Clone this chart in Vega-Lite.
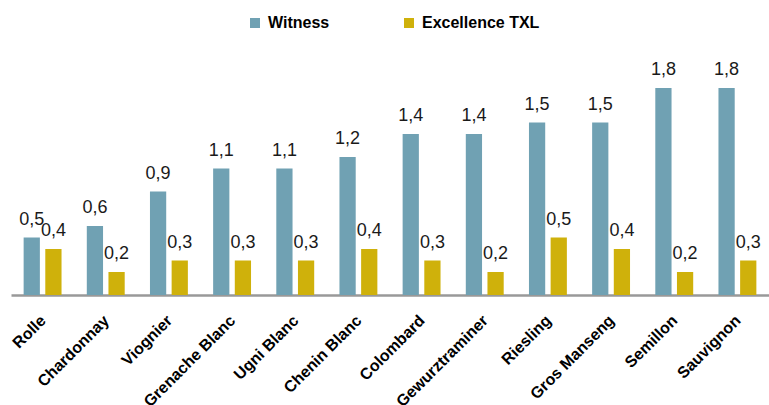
{
  "$schema": "https://vega.github.io/schema/vega-lite/v6.json",
  "autosize": "none",
  "width": 758,
  "height": 276,
  "padding": {"left": 11, "top": 19, "right": 0, "bottom": 110},
  "background": "white",
  "data": {
    "values": [
      {"cepage": "Rolle", "serie": "Witness", "valeur": 0.5},
      {"cepage": "Rolle", "serie": "Excellence TXL", "valeur": 0.4},
      {"cepage": "Chardonnay", "serie": "Witness", "valeur": 0.6},
      {"cepage": "Chardonnay", "serie": "Excellence TXL", "valeur": 0.2},
      {"cepage": "Viognier", "serie": "Witness", "valeur": 0.9},
      {"cepage": "Viognier", "serie": "Excellence TXL", "valeur": 0.3},
      {"cepage": "Grenache Blanc", "serie": "Witness", "valeur": 1.1},
      {"cepage": "Grenache Blanc", "serie": "Excellence TXL", "valeur": 0.3},
      {"cepage": "Ugni Blanc", "serie": "Witness", "valeur": 1.1},
      {"cepage": "Ugni Blanc", "serie": "Excellence TXL", "valeur": 0.3},
      {"cepage": "Chenin Blanc", "serie": "Witness", "valeur": 1.2},
      {"cepage": "Chenin Blanc", "serie": "Excellence TXL", "valeur": 0.4},
      {"cepage": "Colombard", "serie": "Witness", "valeur": 1.4},
      {"cepage": "Colombard", "serie": "Excellence TXL", "valeur": 0.3},
      {"cepage": "Gewurztraminer", "serie": "Witness", "valeur": 1.4},
      {"cepage": "Gewurztraminer", "serie": "Excellence TXL", "valeur": 0.2},
      {"cepage": "Riesling", "serie": "Witness", "valeur": 1.5},
      {"cepage": "Riesling", "serie": "Excellence TXL", "valeur": 0.5},
      {"cepage": "Gros Manseng", "serie": "Witness", "valeur": 1.5},
      {"cepage": "Gros Manseng", "serie": "Excellence TXL", "valeur": 0.4},
      {"cepage": "Semillon", "serie": "Witness", "valeur": 1.8},
      {"cepage": "Semillon", "serie": "Excellence TXL", "valeur": 0.2},
      {"cepage": "Sauvignon", "serie": "Witness", "valeur": 1.8},
      {"cepage": "Sauvignon", "serie": "Excellence TXL", "valeur": 0.3}
    ]
  },
  "encoding": {
    "x": {
      "field": "cepage",
      "type": "nominal",
      "sort": null,
      "scale": {"paddingInner": 0.4, "paddingOuter": 0.2},
      "axis": {
        "title": null,
        "labelAngle": -45,
        "labelFont": "Liberation Sans",
        "labelFontWeight": "bold",
        "labelFontSize": 16,
        "labelColor": "#000000",
        "labelPadding": 17,
        "labelOffset": -5,
        "ticks": false,
        "domainColor": "#999999",
        "domainWidth": 2.5,
        "grid": false
      }
    },
    "xOffset": {
      "field": "serie",
      "type": "nominal",
      "sort": ["Witness", "Excellence TXL"],
      "scale": {"paddingInner": 0.25, "paddingOuter": 0}
    },
    "y": {
      "field": "valeur",
      "type": "quantitative",
      "scale": {"domain": [0, 2.4], "nice": false},
      "axis": null
    }
  },
  "layer": [
    {
      "mark": {"type": "bar"},
      "encoding": {
        "color": {
          "field": "serie",
          "type": "nominal",
          "sort": ["Witness", "Excellence TXL"],
          "scale": {"domain": ["Witness", "Excellence TXL"], "range": ["#70A1B3", "#CFB10B"]},
          "legend": {
            "title": null,
            "orient": "none",
            "direction": "horizontal",
            "legendX": 236,
            "legendY": -4,
            "padding": 0,
            "symbolType": "square",
            "symbolSize": 100,
            "symbolStrokeWidth": 0,
            "symbolOpacity": 1,
            "labelFont": "Liberation Sans",
            "labelFontSize": 16,
            "labelFontWeight": "bold",
            "labelColor": "#000000",
            "labelOffset": 5,
            "columnPadding": 71
          }
        }
      }
    },
    {
      "mark": {
        "type": "text",
        "baseline": "alphabetic",
        "dy": -13,
        "font": "Liberation Sans",
        "fontSize": 18,
        "color": "#1a1a1a"
      },
      "encoding": {
        "text": {"field": "valeur", "type": "quantitative", "format": ".1f"}
      }
    }
  ],
  "config": {
    "locale": {"number": {"decimal": ",", "thousands": " ", "grouping": [3], "currency": ["", " €"]}},
    "view": {"stroke": null}
  }
}
